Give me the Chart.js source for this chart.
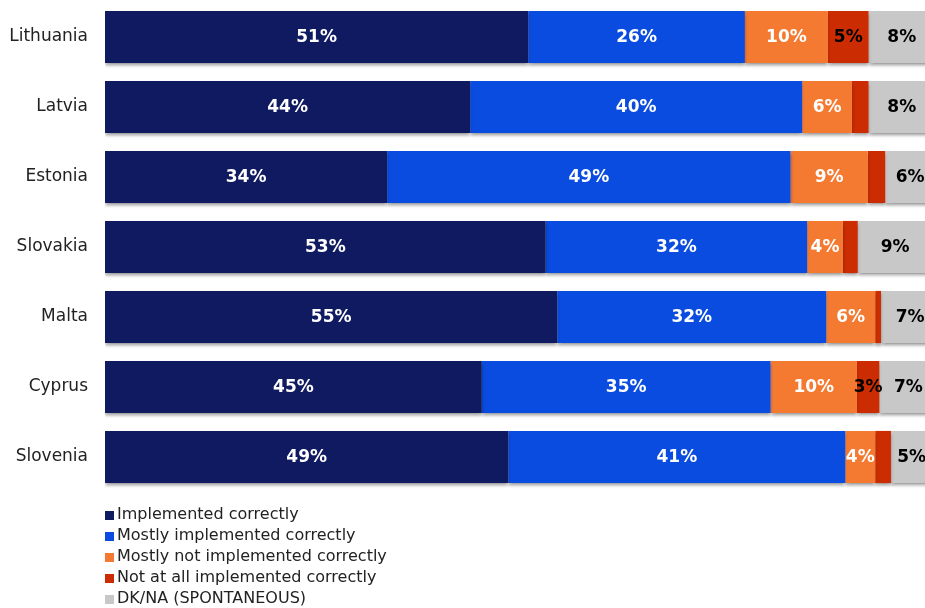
<!DOCTYPE html>
<html>
<head>
<meta charset="utf-8">
<script src="https://cdn.jsdelivr.net/npm/chart.js@4"></script>
<style>
  html, body { margin: 0; padding: 0; background: #fff; }
  #wrap { width: 925px; height: 608px; }
</style>
</head>
<body>
<div id="wrap"><canvas id="chart" width="925" height="608"></canvas></div>
<script>
var countries = ['Lithuania', 'Latvia', 'Estonia', 'Slovakia', 'Malta', 'Cyprus', 'Slovenia'];
var implemented = [51, 44, 34, 53.1, 54.5, 45.4, 48.6];
var mostlyImplemented = [26.1, 40, 48.6, 31.5, 32.4, 34.8, 40.6];
var mostlyNot = [10, 6, 9.3, 4.3, 5.9, 10.4, 3.6];
var notAtAll = [4.9, 2, 2.1, 1.8, 0.7, 2.7, 1.9];
var dkna = [8, 8, 6, 9, 7, 7, 5];
var seriesNames = ['Implemented correctly', 'Mostly implemented correctly', 'Mostly not implemented correctly', 'Not at all implemented correctly', 'DK/NA (SPONTANEOUS)'];
var colors = ['#101a60', '#0a4be0', '#f47a32', '#cc2c02', '#c8c8c8'];
var labelColors = ['#fff', '#fff', '#fff', '#000', '#000'];

var font = '"DejaVu Sans", Verdana, sans-serif';

var shadowPlugin = {
    id: 'barShadow',
    beforeDatasetsDraw: function(chart) {
        var ctx = chart.ctx;
        ctx.save();
        ctx.shadowColor = 'rgba(0,0,0,0.35)';
        ctx.shadowBlur = 3;
        ctx.shadowOffsetY = 3;
    },
    afterDatasetsDraw: function(chart) {
        chart.ctx.restore();
    }
};

var valueLabels = {
    id: 'valueLabels',
    afterDatasetsDraw: function(chart) {
        var ctx = chart.ctx;
        ctx.save();
        ctx.font = 'bold 17px ' + font;
        ctx.textAlign = 'center';
        ctx.textBaseline = 'middle';
        chart.data.datasets.forEach(function(ds, di) {
            var meta = chart.getDatasetMeta(di);
            meta.data.forEach(function(bar, i) {
                var v = Math.round(ds.data[i]);
                if (v < 3) return;
                ctx.fillStyle = labelColors[di];
                ctx.fillText(v + '%', (bar.x + bar.base) / 2, bar.y + 1);
            });
        });
        ctx.restore();
    }
};

var sideLegend = {
    id: 'sideLegend',
    afterDraw: function(chart) {
        var ctx = chart.ctx;
        ctx.save();
        ctx.font = '16px ' + font;
        ctx.textBaseline = 'middle';
        chart.data.datasets.forEach(function(ds, i) {
            var y = 515 + i * 21;
            ctx.fillStyle = ds.backgroundColor;
            ctx.fillRect(105, y - 4, 9, 9);
            ctx.fillStyle = '#222';
            ctx.fillText(ds.label, 117, y);
        });
        ctx.restore();
    }
};

var datasets = [implemented, mostlyImplemented, mostlyNot, notAtAll, dkna].map(function(d, i) {
    return {
        label: seriesNames[i],
        data: d,
        backgroundColor: colors[i],
        borderWidth: 0,
        barPercentage: 0.745,
        categoryPercentage: 1
    };
});

new Chart(document.getElementById('chart').getContext('2d'), {
    type: 'bar',
    data: { labels: countries, datasets: datasets },
    options: {
        indexAxis: 'y',
        responsive: false,
        animation: false,
        layout: { padding: { top: 2, bottom: 116, left: 0, right: 0 } },
        scales: {
            x: { stacked: true, min: 0, max: 98.8, display: false },
            y: {
                stacked: true,
                grid: { display: false, drawTicks: false },
                border: { display: false },
                ticks: { color: '#222', font: { family: font, size: 17 }, padding: 17 },
                afterFit: function(scale) {
                    scale.width = 105;
                    scale.paddingTop = 0;
                    scale.paddingBottom = 0;
                }
            }
        },
        plugins: {
            legend: { display: false },
            tooltip: { enabled: false }
        }
    },
    plugins: [shadowPlugin, valueLabels, sideLegend]
});
</script>
</body>
</html>
